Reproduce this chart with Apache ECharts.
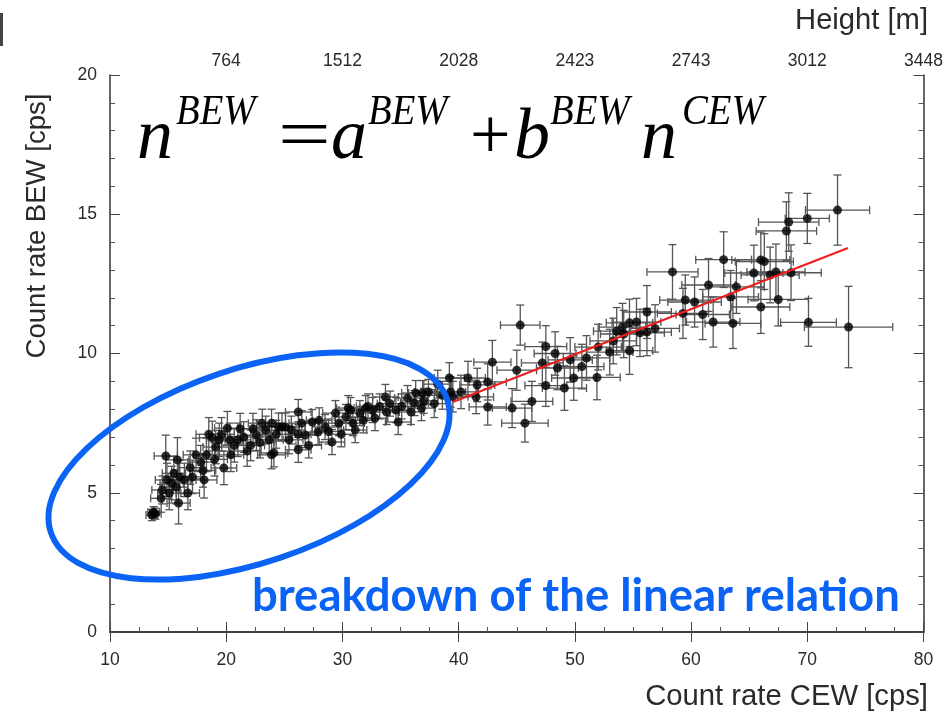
<!DOCTYPE html>
<html><head><meta charset="utf-8">
<script src="https://cdn.jsdelivr.net/npm/echarts@6/dist/echarts.min.js"></script>
<style>html,body{margin:0;padding:0;background:#fff}#c{width:946px;height:721px}</style>
</head><body><div id="c"></div>
<script>
// x tick values (Count rate CEW) and the matching top-axis height labels
const xTicks = [10, 20, 30, 40, 50, 60, 70, 80];
const heightLabels = ['', '764', '1512', '2028', '2423', '2743', '3012', '3448'];
const yTicks = [0, 5, 10, 15, 20];

// points: [CEW rate, BEW rate, CEW error, BEW error]
const lowPts = [
[13.6,4.2,0.5,0.2],[13.75,4.3,0.5,0.2],[13.9,4.25,0.5,0.2],
[14.4,4.8,0.9,0.5],[14.5,5.1,0.9,0.5],[14.8,6.32,1.0,0.75],[14.9,5.46,1.0,0.6],[15.1,4.99,1.0,0.6],
[15.3,5.35,1.0,0.6],[15.5,5.7,1.0,0.6],[15.7,5.2,1.0,0.6],[15.8,6.18,1.0,0.8],[15.9,4.63,1.0,0.75],
[16.0,5.57,1.0,0.6],[16.4,5.46,1.0,0.6],[16.7,4.99,1.0,0.6],[16.9,5.9,1.0,0.6],[17.1,5.57,1.0,0.6],
[17.4,6.36,1.1,0.6],[17.8,6.1,1.1,0.6],[18.0,5.8,1.1,0.6],[18.1,5.46,1.1,0.65],[18.3,6.36,1.1,0.6],
[18.5,7.1,1.1,0.6],[18.8,6.97,1.1,0.6],[19.0,6.2,1.1,0.6],[19.1,6.64,1.1,0.6],[19.4,6.9,1.1,0.6],
[19.6,7.1,1.1,0.6],[19.8,5.89,1.1,0.6],[20.1,7.32,1.1,0.6],[20.3,6.9,1.1,0.6],[20.4,6.36,1.1,0.6],
[20.7,6.7,1.1,0.6],[21.0,6.9,1.1,0.6],[21.2,7.3,1.2,0.55],[21.5,7.0,1.2,0.55],[21.8,6.5,1.2,0.55],
[22.1,6.7,1.2,0.55],[22.3,7.3,1.2,0.55],[22.6,7.07,1.2,0.55],[22.9,6.8,1.2,0.55],[23.1,7.5,1.2,0.5],
[23.4,7.25,1.2,0.5],[23.7,6.9,1.2,0.5],[23.9,7.5,1.2,0.5],[23.9,6.36,1.2,0.5],[24.1,6.43,1.2,0.5],
[24.3,7.1,1.2,0.5],[24.5,7.36,1.2,0.5],[24.8,7.36,1.2,0.5],[25.1,7.36,1.2,0.5],[25.4,6.9,1.2,0.5],
[25.6,7.25,1.2,0.5],[26.2,7.9,1.1,0.45],[26.2,7.1,1.1,0.45],[26.2,6.54,1.1,0.45],[26.5,7.5,1.1,0.45],
[26.8,7.07,1.1,0.45],[27.1,6.7,1.1,0.45],[27.4,7.54,1.1,0.45],[27.9,7.18,1.1,0.45],[28.0,7.6,1.1,0.45],
[28.5,7.36,1.1,0.45],[28.8,7.2,1.1,0.45],[29.1,6.82,1.1,0.45],[29.4,7.86,1.1,0.45],[29.7,7.5,1.1,0.45],
[29.9,7.1,1.1,0.45]
];
const midPts = [
[30.3,7.72,1.0,0.45],[30.5,8.04,1.0,0.45],[30.7,7.97,1.0,0.45],[30.9,7.5,1.0,0.45],[31.1,7.25,1.0,0.45],
[31.5,7.86,1.0,0.45],[31.8,7.6,1.0,0.45],[32.0,8.04,1.0,0.45],[32.2,8.1,1.0,0.45],[32.6,7.97,1.1,0.45],
[32.8,7.68,1.1,0.45],[33.2,8.1,1.1,0.45],[33.7,8.44,1.1,0.45],[33.8,7.9,1.1,0.45],[34.1,8.2,1.1,0.45],
[34.6,7.97,1.1,0.45],[34.8,7.54,1.1,0.45],[35.1,8.1,1.1,0.45],[35.6,8.4,1.1,0.45],[35.9,7.9,1.1,0.45],
[36.2,8.22,1.2,0.45],[36.3,8.58,1.2,0.45],[36.8,8.04,1.2,0.45],[36.9,8.58,1.2,0.45],[37.0,8.3,1.2,0.45],
[37.4,8.62,1.2,0.45],[37.9,8.2,1.2,0.5],[38.2,8.9,1.2,0.5],[38.6,8.5,1.3,0.5],[39.2,9.12,1.3,0.55],
[39.3,8.62,1.3,0.55],[39.5,8.45,1.3,0.55]
];
const highPts = [
[40.2,8.62,1.5,0.6],[40.8,9.12,1.5,0.6],[41.5,8.44,1.5,0.6],[41.6,8.87,1.5,0.6],[42.5,8.08,1.6,0.65],
[42.5,8.98,1.6,0.65],[42.9,9.69,1.6,0.78],[44.6,8.04,1.7,0.7],[45.0,9.4,1.7,0.72],[45.3,11.02,1.7,0.72],
[45.7,7.5,2.0,0.68],[46.3,8.28,1.8,0.72],[47.2,9.66,1.8,0.75],[47.5,10.25,1.8,0.75],[47.5,8.85,1.8,0.75],
[48.3,10.0,1.8,0.78],[48.5,9.48,1.8,0.78],[49.1,8.76,1.9,0.8],[49.6,9.77,1.9,0.8],[49.9,9.12,1.9,0.8],
[50.6,9.53,1.9,0.8],[51.0,9.84,2.0,0.8],[51.9,9.14,2.0,0.8],[52.0,10.23,2.0,0.82],[53.0,10.05,2.0,0.82],
[53.3,10.45,2.0,0.82],[53.6,10.8,2.0,0.85],[54.1,10.95,2.0,0.85],[54.2,10.7,2.0,0.85],[54.7,10.1,2.0,0.85],
[54.7,11.1,2.0,0.85],[55.3,11.13,2.1,0.85],[55.6,10.74,2.1,0.85],[56.2,11.49,2.1,0.95],[56.2,10.77,2.1,0.85],
[56.9,10.9,2.1,0.85],[58.4,12.93,2.2,0.98],[59.3,11.44,2.2,0.9],[59.5,11.92,2.2,0.9],[60.3,11.85,2.3,0.9],
[61.0,11.4,2.3,0.9],[61.5,12.46,2.3,0.95],[61.9,11.13,2.3,0.9],[62.8,13.37,2.4,1.0],[63.4,12.03,2.4,0.95],
[63.6,11.08,2.4,0.9],[63.9,12.39,2.4,0.95],[65.4,12.89,2.5,1.0],[66.0,13.36,2.5,1.0],[66.0,11.67,2.5,0.95],
[66.3,13.3,2.5,1.0],[66.8,12.82,2.5,1.0],[67.3,12.93,2.5,1.0],[67.5,11.94,2.6,0.95],[68.2,14.4,2.6,1.05],
[68.4,14.72,2.6,1.05],[68.6,12.9,2.6,1.0],[70.0,14.85,1.9,0.9],[70.1,11.12,2.4,0.86],[72.6,15.15,2.76,1.26],
[73.55,10.95,3.8,1.46]
];
// linear fit end points
const fitX = [39.5, 73.5];
const fitY = [8.26, 13.79];

const allPts = lowPts.concat(midPts, highPts);

function fitSize(text, family, weight, target) {
  const c = document.createElement('canvas').getContext('2d');
  c.font = weight + ' 100px ' + family;
  return 100 * target / c.measureText(text).width;
}
const sansFam = '"Liberation Sans", Arial, sans-serif';
const serifFam = '"Liberation Serif", "Times New Roman", serif';
const blue = '#0a63f4';
const txt = '#2a2a2a';
const breakText = 'breakdown of the linear relation';
const breakSize = fitSize(breakText, 'Lato', 'bold', 648);
const ttlX = 'Count rate CEW [cps]', ttlY = 'Count rate BEW [cps]', ttlTop = 'Height [m]';

const chart = echarts.init(document.getElementById('c'));
const axisLine = {show: true, lineStyle: {color: '#333', width: 1.5}};
const tick = {show: true, inside: true, length: 10, lineStyle: {color: '#444', width: 1}};
const minor = (n) => ({show: true, splitNumber: n, length: 5, lineStyle: {color: '#555', width: 1}});

// equation pieces: baseline b, font size s
const eqParts = [
  {t: 'n', x: 137, b: 160, s: 72},
  {t: 'BEW', x: 176, b: 125, s: 43, sx: 0.9},
  {t: '=', x: 278, b: 160, s: 72, up: true, sx: 1.3},
  {t: 'a', x: 331, b: 160, s: 72},
  {t: 'BEW', x: 368, b: 125, s: 43, sx: 0.9},
  {t: '+', x: 470, b: 160, s: 72, up: true},
  {t: 'b', x: 514, b: 160, s: 72},
  {t: 'BEW', x: 550, b: 125, s: 43, sx: 0.9},
  {t: 'n', x: 641, b: 160, s: 72},
  {t: 'CEW', x: 682, b: 125, s: 43, sx: 0.9}
];

const graphics = [
  {type: 'rect', shape: {x: 0, y: 13, width: 3, height: 33}, style: {fill: '#444'}},
  {type: 'text', x: 928, y: 21, style: {text: ttlTop, font: fitSize(ttlTop, sansFam, 'normal', 133) + 'px ' + sansFam, fill: txt, align: 'right', verticalAlign: 'middle'}},
  {type: 'text', x: 928, y: 697, style: {text: ttlX, font: fitSize(ttlX, sansFam, 'normal', 283) + 'px ' + sansFam, fill: txt, align: 'right', verticalAlign: 'middle'}},
  {type: 'text', x: 37, y: 226, rotation: Math.PI / 2, style: {text: ttlY, font: fitSize(ttlY, sansFam, 'normal', 265) + 'px ' + sansFam, fill: txt, align: 'center', verticalAlign: 'middle'}},
  {type: 'ellipse', x: 249, y: 466, rotation: 18.6 * Math.PI / 180, shape: {cx: 0, cy: 0, rx: 209, ry: 97}, style: {fill: 'none', stroke: blue, lineWidth: 6}, z: 100},
  {type: 'text', x: 252, y: 596, style: {text: breakText, font: 'bold ' + breakSize + 'px Lato, sans-serif', fill: blue, align: 'left', verticalAlign: 'middle'}, z: 100}
];
eqParts.forEach(p => {
  graphics.push({type: 'text', x: p.x, y: p.b - 0.79 * p.s, scaleX: p.sx || 1, z: 100, style: {
    text: p.t, font: (p.up ? '' : 'italic ') + p.s + 'px ' + serifFam, fill: '#000',
    align: 'left', verticalAlign: 'top'
  }});
});

const option = {
  backgroundColor: '#fff',
  animation: false,
  grid: {left: 110, right: 17, top: 75, bottom: 89, containLabel: false},
  xAxis: [
    {type: 'value', position: 'bottom', min: xTicks[0], max: xTicks[xTicks.length - 1], interval: 10,
     axisLine: axisLine, axisTick: tick, minorTick: minor(4), splitLine: {show: false},
     axisLabel: {fontSize: 17.5, color: txt, margin: 19, fontFamily: sansFam}},
    {type: 'value', position: 'top', min: xTicks[0], max: xTicks[xTicks.length - 1], interval: 10,
     axisLine: axisLine, axisTick: tick, splitLine: {show: false},
     axisLabel: {fontSize: 17.5, color: txt, margin: 5, fontFamily: sansFam,
       formatter: v => heightLabels[xTicks.indexOf(v)] || ''}}
  ],
  yAxis: [
    {type: 'value', position: 'left', min: yTicks[0], max: yTicks[yTicks.length - 1], interval: 5,
     axisLine: axisLine, axisTick: tick, minorTick: minor(5), splitLine: {show: false},
     axisLabel: {fontSize: 17.5, color: txt, margin: 13, fontFamily: sansFam}},
    {type: 'value', position: 'right', min: yTicks[0], max: yTicks[yTicks.length - 1], interval: 5,
     axisLine: axisLine, axisTick: tick, minorTick: minor(5), splitLine: {show: false},
     axisLabel: {show: false}}
  ],
  series: [
    {type: 'custom', xAxisIndex: 0, yAxisIndex: 0, z: 2,
     data: allPts, encode: {x: 0, y: 1},
     renderItem: function (params, api) {
       const x = api.value(0), y = api.value(1), ex = api.value(2), ey = api.value(3);
       const l = api.coord([x - ex, y]), r = api.coord([x + ex, y]);
       const b = api.coord([x, y - ey]), t = api.coord([x, y + ey]);
       const st = {stroke: '#555', lineWidth: 1.3, fill: null};
       const cap = 4;
       const line = (x1, y1, x2, y2) => ({type: 'line', shape: {x1, y1, x2, y2}, style: st});
       return {type: 'group', children: [
         line(l[0], l[1], r[0], r[1]),
         line(b[0], b[1], t[0], t[1]),
         line(l[0], l[1] - cap, l[0], l[1] + cap),
         line(r[0], r[1] - cap, r[0], r[1] + cap),
         line(b[0] - cap, b[1], b[0] + cap, b[1]),
         line(t[0] - cap, t[1], t[0] + cap, t[1])
       ]};
     }},
    {type: 'scatter', xAxisIndex: 0, yAxisIndex: 0, z: 3,
     data: allPts.map(p => [p[0], p[1]]), symbol: 'circle', symbolSize: 9,
     itemStyle: {color: '#000'}},
    {type: 'line', xAxisIndex: 0, yAxisIndex: 0, z: 4,
     data: fitX.map((x, i) => [x, fitY[i]]), symbol: 'none',
     lineStyle: {color: '#ee1c1c', width: 2}}
  ],
  graphic: graphics
};
chart.setOption(option);
</script></body></html>
